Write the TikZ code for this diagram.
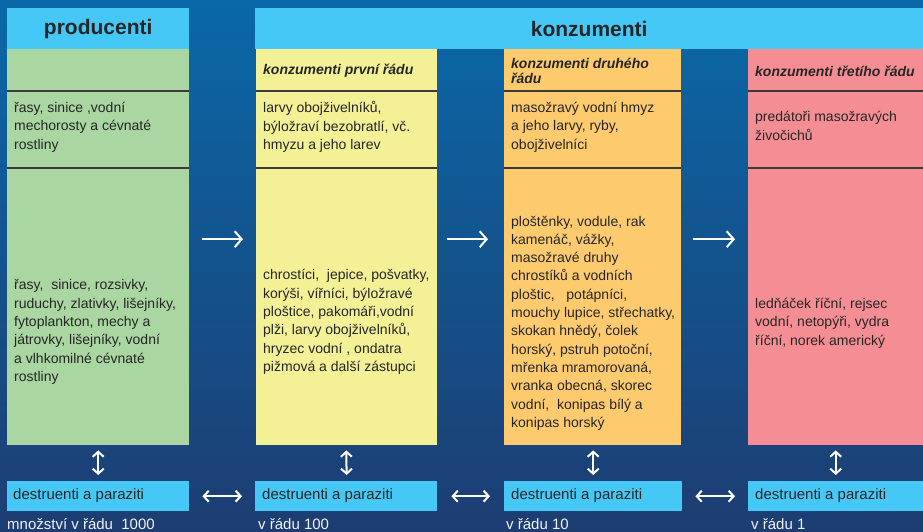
\documentclass[tikz,border=0pt]{standalone}
\usepackage{fontspec}
\setmainfont{Liberation Sans}
\usetikzlibrary{arrows.meta}

\definecolor{hdrblue}{HTML}{45C8F5}
\definecolor{colgreen}{HTML}{A9D6A1}
\definecolor{colyellow}{HTML}{F4F096}
\definecolor{colorange}{HTML}{FDCB6E}
\definecolor{colpink}{HTML}{F48E94}
\definecolor{txtgray}{HTML}{262626}
\definecolor{linegray}{HTML}{3A3A3A}
\definecolor{bgtop}{HTML}{0A68A8}
\definecolor{bgmid}{HTML}{0E4F8E}
\definecolor{bgbot}{HTML}{1D3D72}

\begin{document}
\begin{tikzpicture}[x=1pt,y=-1pt,
  header/.style={fill=hdrblue, inner sep=0pt, anchor=north west, minimum height=41pt,
    text=txtgray, font=\fontsize{21}{25}\selectfont\bfseries},
  column/.style={inner sep=0pt, anchor=north west, minimum height=396pt},
  sepline/.style={draw=linegray, line width=1.3pt},
  title/.style={anchor=west, inner sep=0pt, align=left, text=txtgray,
    font=\fontsize{14}{15}\selectfont\bfseries\itshape},
  body/.style={anchor=west, inner sep=0pt, align=left, text=txtgray,
    font=\fontsize{14}{18.3}\selectfont},
  destbox/.style={fill=hdrblue, anchor=north west, minimum height=30pt, inner sep=0pt},
  desttext/.style={anchor=west, inner sep=0pt, text=txtgray, font=\fontsize{15}{18}\selectfont},
  amount/.style={anchor=base west, inner sep=0pt, text=white!90!gray, font=\fontsize{15}{18}\selectfont},
  flow/.style={draw=white, line width=2pt, -{Straight Barb[length=7pt,width=16pt]}},
  swap/.style={draw=white, line width=2pt, {Straight Barb[length=5pt,width=11pt]}-{Straight Barb[length=5pt,width=11pt]}}
]
\useasboundingbox (0,0) rectangle (923,531);
\shade[top color=bgtop, middle color=bgmid, bottom color=bgbot] (0,0) rectangle (923,531);

% headers
\node[header, minimum width=182pt] (prod) at (7,8) {producenti};
\node[header, minimum width=668pt] (konz) at (255,8) {konzumenti};

% columns
\node[column, fill=colgreen, minimum width=182pt] (green) at (7,49) {};
\node[column, fill=colyellow, minimum width=181pt] (yellow) at (256,49) {};
\node[column, fill=colorange, minimum width=177pt] (orange) at (504,49) {};
\node[column, fill=colpink, minimum width=175pt] (pink) at (748,49) {};

\foreach \c in {green,yellow,orange,pink} {
  \draw[sepline] ([yshift=-42pt]\c.north west) -- ([yshift=-42pt]\c.north east);
  \draw[sepline] ([yshift=-119pt]\c.north west) -- ([yshift=-119pt]\c.north east);
}

% titles
\node[title] (ytitle) at (263,71) {konzumenti první řádu};
\node[title] (otitle) at (511,71) {konzumenti druhého\\řádu};
\node[title] (ptitle) at (755,71) {konzumenti třetího řádu};

% groups
\node[body] (ggroup) at (14,127) {řasy, sinice ,vodní\\mechorosty a cévnaté\\rostliny};
\node[body] (ygroup) at (263,127) {larvy obojživelníků,\\býložraví bezobratlí, vč.\\hmyzu a jeho larev};
\node[body] (ogroup) at (511,127) {masožravý vodní hmyz\\a jeho larvy, ryby,\\obojživelníci};
\node[body] (pgroup) at (755,126) {predátoři masožravých\\živočichů};

% species
\node[body] (gspec) at (14,332) {řasy,\ \ sinice, rozsivky,\\ruduchy, zlativky, lišejníky,\\fytoplankton, mechy a\\játrovky, lišejníky, vodní\\a vlhkomilné cévnaté\\rostliny};
\node[body] (yspec) at (263,322) {chrostíci,\ \ jepice, pošvatky,\\korýši, vířníci, býložravé\\ploštice, pakomáři,vodní\\plži, larvy obojživelníků,\\hryzec vodní , ondatra\\pižmová a další zástupci};
\node[body] (ospec) at (511,323) {ploštěnky, vodule, rak\\kamenáč, vážky,\\masožravé druhy\\chrostíků a vodních\\ploštic,\ \ \ potápníci,\\mouchy lupice, střechatky,\\skokan hnědý, čolek\\horský, pstruh potoční,\\mřenka mramorovaná,\\vranka obecná, skorec\\vodní,\ \ konipas bílý a\\konipas horský};
\node[body] (pspec) at (755,323) {ledňáček říční, rejsec\\vodní, netopýři, vydra\\říční, norek americký};

% destruenti
\node[destbox, minimum width=182pt] (gbot) at (7,481) {};
\node[destbox, minimum width=182pt] (ybot) at (255,481) {};
\node[destbox, minimum width=178pt] (obot) at (504,481) {};
\node[destbox, minimum width=175pt] (pbot) at (748,481) {};
\node[desttext] (gdest) at (13,496) {destruenti a paraziti};
\node[desttext] (ydest) at (262,496) {destruenti a paraziti};
\node[desttext] (odest) at (511,496) {destruenti a paraziti};
\node[desttext] (pdest) at (755,496) {destruenti a paraziti};

% amounts
\node[amount] (gamount) at (7,529) {množství v řádu\ \ 1000};
\node[amount] (yamount) at (258,529) {v řádu 100};
\node[amount] (oamount) at (506,529) {v řádu 10};
\node[amount] (pamount) at (751,529) {v řádu 1};

% arrows
\draw[flow, shorten <=13pt, shorten >=13pt] ([yshift=8pt]green.east) -- ([yshift=8pt]yellow.west);
\draw[flow, shorten <=10pt, shorten >=16pt] ([yshift=8pt]yellow.east) -- ([yshift=8pt]orange.west);
\draw[flow, shorten <=12pt, shorten >=13pt] ([yshift=8pt]orange.east) -- ([yshift=8pt]pink.west);

\draw[swap, shorten <=5pt, shorten >=6pt] (green.south -| gbot.north) -- (gbot.north);
\draw[swap, shorten <=5pt, shorten >=6pt] ([xshift=-0.5pt]yellow.south) -- (yellow.south |- ybot.north);
\draw[swap, shorten <=5pt, shorten >=6pt] (orange.south -| obot.north) -- (obot.north);
\draw[swap, shorten <=5pt, shorten >=6pt] (pink.south -| pbot.north) -- (pbot.north);

\draw[swap, shorten <=13pt, shorten >=13pt] (gbot.east) -- (ybot.west);
\draw[swap, shorten <=14pt, shorten >=14pt] (ybot.east) -- (obot.west);
\draw[swap, shorten <=13pt, shorten >=13pt] (obot.east) -- (pbot.west);
\end{tikzpicture}
\end{document}
